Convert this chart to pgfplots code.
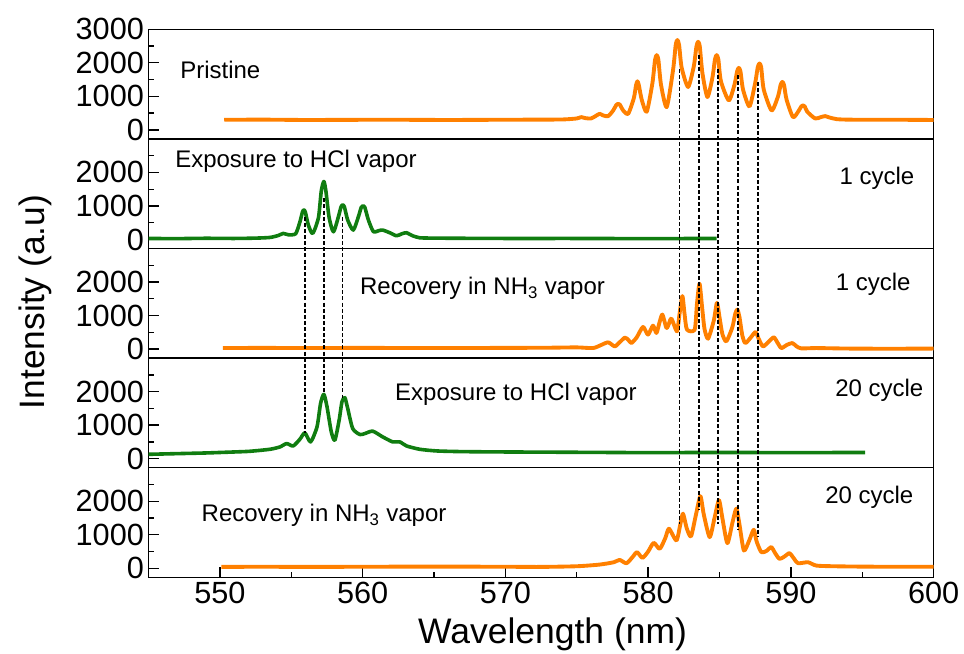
\documentclass[border=0pt]{standalone}
\usepackage{fontspec}
\setmainfont{Liberation Sans}
\usepackage{pgfplots}
\pgfplotsset{compat=1.18}
\definecolor{myorange}{RGB}{255,128,0}
\definecolor{mygreen}{RGB}{16,125,16}
\pgfplotsset{
  panel/.style={
    width=588.75pt, height=82.2pt, scale only axis,
    xmin=545, xmax=600, ymin=-270, ymax=3000,
    axis line style={line width=1pt},
    ytick={0,1000,2000}, minor ytick={500,1500,2500},
    xtick=\empty,
    tick align=inside, major tick length=8pt, minor tick length=4.3pt,
    ytick pos=left, xtick pos=bottom,
    every tick/.style={black, line width=1pt},
    tick label style={font=\fontsize{23}{26}\selectfont},
    /pgf/number format/assume math mode=true,
    /pgf/number format/1000 sep={},
    scaled ticks=false,
    anchor=north west,
  },
  oline/.style={color=myorange, line width=2.9pt, line join=round, no marks, smooth, tension=0.4},
  gline/.style={color=mygreen, line width=2.7pt, line join=round, no marks, smooth, tension=0.4},
}
\tikzset{dline/.style={black, line width=1pt, dash pattern=on 3pt off 1.6pt},
  annot/.style={font=\fontsize{18}{21}\selectfont, inner sep=0pt}}
\begin{document}
\begin{tikzpicture}
\path[use as bounding box] (-111.45pt,21.98pt) rectangle (611.55pt,-468.5pt);
% Panel 1
\begin{axis}[panel, at={(0pt,0pt)}, ytick={0,1000,2000,3000}]
\addplot[oline] coordinates {
(550.3,300)(553,305)(556,295)(560,300)(563,300)(566,295)(569,300)(572,305)(574,310)
(575.0,340)(575.3,380)(575.6,350)(576.0,340)(576.35,420)(576.6,480)(576.85,430)(577.2,410)
(577.55,580)(577.78,750)(577.9,780)(578.02,750)(578.25,580)(578.6,480)
(579.0,950)(579.15,1330)(579.25,1450)(579.35,1330)(579.55,900)(579.9,540)
(580.3,1400)(580.48,2080)(580.6,2230)(580.72,2080)(580.9,1350)(581.3,680)
(581.75,1800)(581.93,2530)(582.05,2680)(582.17,2530)(582.35,1850)(582.8,1280)
(583.2,1900)(583.38,2480)(583.5,2630)(583.62,2480)(583.8,1700)(584.15,980)
(584.5,1550)(584.68,2100)(584.8,2230)(584.92,2100)(585.1,1450)(585.65,880)
(586.05,1350)(586.23,1740)(586.35,1850)(586.47,1740)(586.65,1200)(587.1,700)
(587.5,1400)(587.68,1870)(587.8,1980)(587.92,1870)(588.1,1200)(588.65,580)
(589.1,1000)(589.28,1340)(589.4,1430)(589.52,1340)(589.7,900)(590.15,380)
(590.55,570)(590.73,700)(590.85,730)(590.97,700)(591.15,540)(591.7,340)
(592.1,380)(592.4,410)(592.7,370)(593.2,320)(594,305)(596,300)(598,300)(600,295)
};
\node[annot, anchor=west] at (axis cs:547.2,1780) {Pristine};
\coordinate (R1t) at (axis cs:582.2,1830);
\coordinate (R2t) at (axis cs:583.56,2230);
\coordinate (R3t) at (axis cs:584.85,1830);
\coordinate (R3u) at (axis cs:584.95,1830);
\coordinate (R4t) at (axis cs:586.3,1630);
\coordinate (R5t) at (axis cs:587.7,1430);
\end{axis}
% Panel 2
\begin{axis}[panel, at={(0pt,-82.2pt)}]
\addplot[gline] coordinates {
(545,30)(547,25)(549,35)(551,30)(552.5,40)(553.5,60)(554.1,120)(554.43,180)(554.8,140)(555.3,170)
(555.6,520)(555.78,820)(555.88,880)(555.98,820)(556.2,420)(556.5,180)
(556.9,650)(557.1,1450)(557.28,1730)(557.42,1450)(557.65,650)(557.95,230)
(558.3,680)(558.48,970)(558.6,1030)(558.72,970)(558.95,580)(559.34,280)
(559.7,680)(559.9,960)(560.03,1010)(560.15,960)(560.4,580)(560.75,230)
(561.1,260)(561.4,280)(561.9,200)(562.37,110)(562.75,170)(563.07,200)(563.5,110)
(564,50)(565,40)(567,35)(570,30)(575,30)(580,25)(584.8,30)
};
\node[annot, anchor=west] at (axis cs:546.85,2330) {Exposure to HCl vapor};
\node[annot, anchor=east] at (axis cs:598.67,1820) {1 cycle};
\coordinate (L1t) at (axis cs:555.95,680);
\coordinate (L2t) at (axis cs:557.28,1230);
\coordinate (L3t) at (axis cs:558.6,680);
\end{axis}
% Panel 3
\begin{axis}[panel, at={(0pt,-164.4pt)}]
\addplot[oline] coordinates {
(550.2,30)(553,35)(556,30)(560,35)(565,30)(570,35)(573,40)(575,50)(576.14,30)
(576.7,120)(577.2,200)(577.66,80)(578.0,200)(578.36,340)(578.6,280)(578.83,180)
(579.2,350)(579.64,660)(579.99,430)(580.34,700)(580.58,480)(580.8,800)(581.0,1030)
(581.28,630)(581.45,750)(581.63,910)(582.02,530)(582.2,1050)(582.4,1580)(582.55,1050)
(582.72,580)(583.26,580)(583.42,1350)(583.6,1950)(583.78,1250)(583.95,600)(584.2,310)
(584.6,850)(584.82,1380)(585.0,950)(585.2,450)(585.48,230)(585.9,650)(586.1,1050)
(586.25,1180)(586.4,950)(586.6,400)(586.81,180)(587.2,350)(587.53,510)(587.75,300)
(588.04,80)(588.4,200)(588.8,350)(589.05,200)(589.33,30)(589.7,120)(590.1,180)
(590.4,80)(590.73,20)(591.78,30)(594,15)(597,10)(600,15)
};
\node[annot, anchor=west] at (axis cs:559.8,1810) {Recovery in NH\textsubscript{3} vapor};
\node[annot, anchor=east] at (axis cs:598.4,1930) {1 cycle};
\end{axis}
% Panel 4
\begin{axis}[panel, at={(0pt,-246.6pt)}]
\addplot[gline] coordinates {
(545,130)(547,150)(549,170)(551,200)(552.1,220)(553.5,280)(554.2,350)(554.67,450)
(555.13,380)(555.6,580)(555.95,770)(556.35,500)(556.8,950)(557.05,1650)(557.28,1920)
(557.5,1550)(557.8,800)(558.05,550)(558.35,1150)(558.55,1700)(558.75,1820)(558.95,1500)
(559.3,900)(559.8,720)(560.16,750)(560.7,820)(561.4,650)(562.1,500)(562.6,500)
(563.07,380)(564,280)(565.2,230)(567,210)(570,200)(575,190)(580,180)(585,185)(590,180)(595.2,185)
};
\node[annot, anchor=west] at (axis cs:562.26,1910) {Exposure to HCl vapor};
\node[annot, anchor=east] at (axis cs:599.3,2030) {20 cycle};
\coordinate (L1b) at (axis cs:555.95,770);
\coordinate (L2b) at (axis cs:557.28,1920);
\coordinate (L3b) at (axis cs:558.6,1820);
\end{axis}
% Panel 5
\begin{axis}[panel, at={(0pt,-328.8pt)},
  xtick={550,560,...,600}, minor xtick={555,565,...,595}]
\addplot[oline] coordinates {
(550.1,40)(553,45)(556,40)(560,45)(565,50)(570,45)(572.4,40)(575,60)(576.6,110)
(577.6,180)(578.0,250)(578.48,150)(578.9,330)(579.22,480)(579.6,310)(580.0,500)
(580.39,760)(580.81,580)(581.2,900)(581.46,1180)(581.98,830)(582.25,1300)(582.44,1630)
(582.7,1200)(583.0,950)(583.35,1600)(583.66,2150)(583.9,1600)(584.31,930)(584.65,1500)
(584.96,2030)(585.2,1500)(585.55,750)(585.9,1350)(586.18,1780)(586.4,1300)(586.71,530)
(587.1,850)(587.4,1150)(587.6,800)(587.93,480)(588.3,520)(588.63,630)(588.9,450)
(589.2,280)(589.55,350)(589.9,450)(590.2,300)(590.5,150)(591.2,180)(591.78,80)
(593,60)(594.8,50)(597,45)(600,45)
};
\node[annot, anchor=west] at (axis cs:548.7,1580) {Recovery in NH\textsubscript{3} vapor};
\node[annot, anchor=east] at (axis cs:598.6,2120) {20 cycle};
\coordinate (R1b) at (axis cs:582.2,1330);
\coordinate (R2b) at (axis cs:583.56,1730);
\coordinate (R3b) at (axis cs:584.85,1330);
\coordinate (R3c) at (axis cs:584.95,1330);
\coordinate (R4b) at (axis cs:586.3,1130);
\coordinate (R5b) at (axis cs:587.7,930);
\end{axis}
\draw[dline] (R1t) -- (R1b);
\draw[dline] (R2t) -- (R2b);
\draw[dline] (R3t) -- (R3b);
\draw[dline] (R3u) -- (R3c);
\draw[dline] (R4t) -- (R4b);
\draw[dline] (R5t) -- (R5b);
\draw[dline] (L1t) -- (L1b);
\draw[dline] (L2t) -- (L2b);
\draw[dline] (L3t) -- (L3b);
\node[rotate=90, font=\fontsize{26.5}{30}\selectfont] at (-85pt,-204.5pt) {Intensity (a.u)};
\node[font=\fontsize{26.6}{30}\selectfont] at (303pt,-453.5pt) {Wavelength (nm)};
\end{tikzpicture}
\end{document}
